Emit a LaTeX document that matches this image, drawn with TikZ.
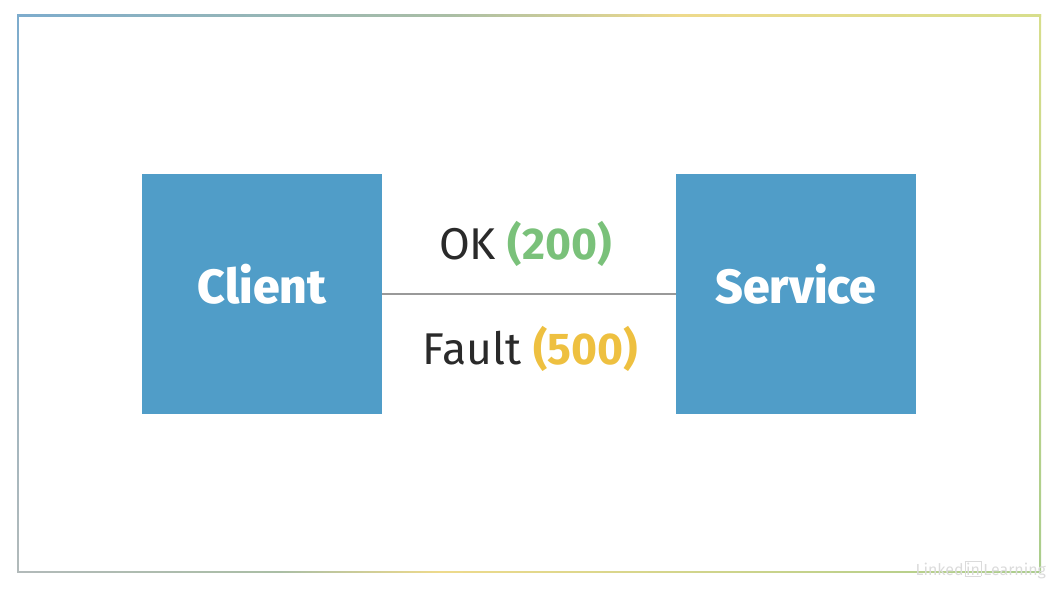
\documentclass[tikz,border=0pt]{standalone}
\usepackage{fontspec}
\setmainfont{Fira Sans}
\newfontfamily\heavyfont{Fira Sans ExtraBold}
\usepackage{tikz}
\usetikzlibrary{
  positioning
}
\definecolor{BoxBlue}{RGB}{80, 157, 200}
\definecolor{OkGreen}{RGB}{122, 193, 122}
\definecolor{FaultGold}{RGB}{238, 192, 64}
\definecolor{TextDark}{RGB}{42, 42, 42}
\definecolor{FrameBlue}{RGB}{125, 172, 205}
\definecolor{FrameMoss}{RGB}{170, 190, 165}
\definecolor{FrameGreen}{RGB}{170, 205, 140}
\definecolor{FrameGold}{RGB}{238, 218, 140}
\definecolor{FrameLime}{RGB}{215, 222, 140}
\definecolor{FrameGray}{RGB}{178, 186, 186}

\begin{document}
\begin{tikzpicture}[
        x=1pt, y=1pt,
        node distance=0pt and 294pt,
        every node/.style={inner sep=0pt, outer sep=0pt},
        box/.style={rectangle, fill=BoxBlue, minimum width=240pt, minimum height=240pt},
        title/.style={text=white, font=\fontsize{48}{48}\selectfont\heavyfont},
        label/.style={text=TextDark, font=\fontsize{44.5}{44.5}\selectfont},
        edge/.style={draw=black!40, line width=1.2pt}
    ]
    \useasboundingbox (0,0) rectangle (1062,598);
    % Frame
    \shade[left color=FrameBlue, right color=FrameMoss] (17,581.7) rectangle (450,583.3);
    \shade[left color=FrameMoss, right color=FrameGold] (450,581.7) rectangle (680,583.3);
    \shade[left color=FrameGold, right color=FrameLime] (680,581.7) rectangle (1041,583.3);
    \shade[left color=FrameGray, right color=FrameMoss] (17,25.2) rectangle (280,26.8);
    \shade[left color=FrameMoss, right color=FrameGold] (280,25.2) rectangle (440,26.8);
    \shade[left color=FrameGold, right color=FrameGreen] (440,25.2) rectangle (1041,26.8);
    \shade[bottom color=FrameGray, top color=FrameBlue] (17,25.2) rectangle (18.6,583.3);
    \shade[bottom color=FrameGreen, top color=FrameLime] (1039.4,25.2) rectangle (1041,583.3);
    % Nodes
    \node[box] (client) at (262,304) {};
    \node[box, right=of client] (service) {};
    \node[title, anchor=base] (clientname) at (client.center |- 0,295) {Client};
    \node[title, anchor=base] (servicename) at (service.center |- 0,295) {Service};
    % Arrows
    \draw[edge] (client) -- (service);
    % Label
    \node[label, anchor=base] (ok) at (525.5,338) {OK \textcolor{OkGreen}{\textbf{(200)}}};
    \node[label, anchor=base] (fault) at (530.5,234) {Fault \textcolor{FaultGold}{\textbf{(500)}}};
    \node[anchor=base east, text=black!14, font=\fontsize{16}{16}\selectfont] (mark) at (1046,23) {Linked\hspace{1pt}\setlength{\fboxsep}{1pt}\fbox{in}\hspace{2pt}Learning};
    \end{tikzpicture}
\end{document}
